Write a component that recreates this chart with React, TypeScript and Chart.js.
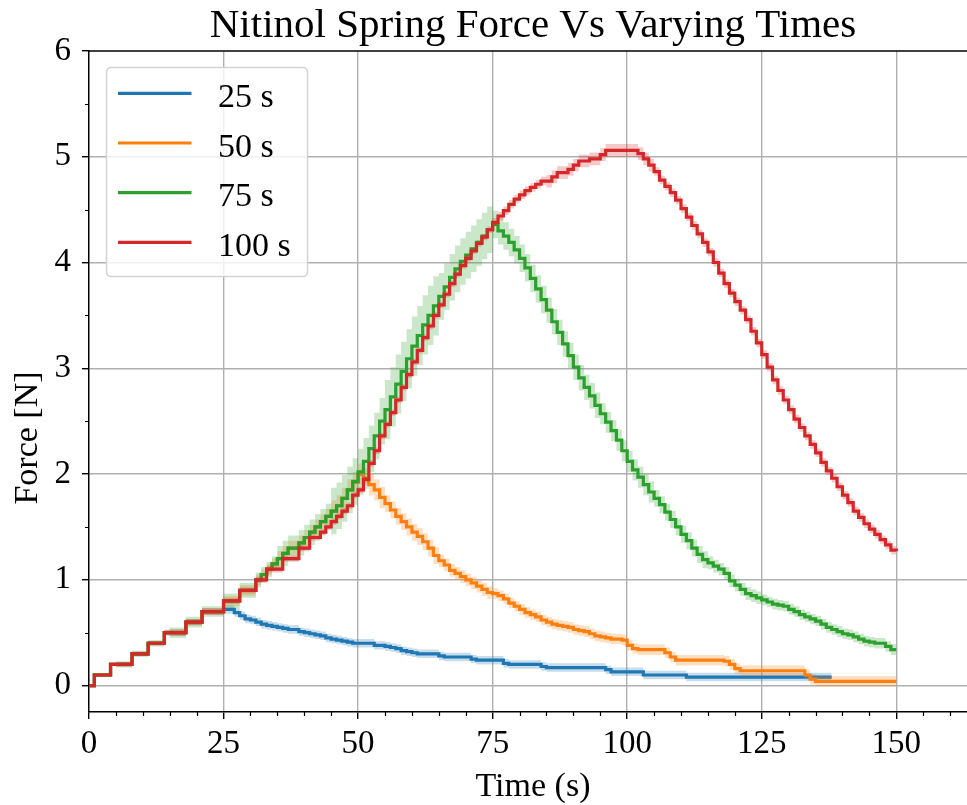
import React, { useEffect, useRef } from "react";
import { Chart, registerables } from "chart.js";

Chart.register(...registerables);

// ---------------- data ----------------
const TITLE = "Nitinol Spring Force Vs Varying Times";
const X_LABEL = "Time (s)";
const Y_LABEL = "Force [N]";
const SERIES_LABELS = ["25 s", "50 s", "75 s", "100 s"];
const SERIES_COLORS = ["#1f77b4", "#ff7f0e", "#2ca02c", "#d62728"];
const BAND_COLORS = [
  "rgba(31,119,180,0.25)",
  "rgba(255,127,14,0.25)",
  "rgba(44,160,44,0.25)",
  "rgba(214,39,40,0.25)",
];

const X_TICKS = [0, 25, 50, 75, 100, 125, 150];
const X_MINOR_TICKS = [5, 10, 15, 20, 30, 35, 40, 45, 55, 60, 65, 70, 80, 85, 90, 95, 105, 110, 115, 120, 130, 135, 140, 145, 155, 160];
const Y_TICKS = [0, 1, 2, 3, 4, 5, 6];
const Y_MINOR_TICKS = [0.5, 1.5, 2.5, 3.5, 4.5, 5.5];
const X_MIN = 0;
const X_MAX = 165;
const Y_MIN = -0.25;
const Y_MAX = 6;

// samples are 1 s apart, starting at t = 0
const SAMPLE_S = 1;
// spread (band half width) is given every 10 s
const SPREAD_STEP_S = 10;

// 25 s heating (t = 0..138)
const F25 = [
  0, 0.1, 0.1, 0.1, 0.2, 0.2, 0.2, 0.2, 0.3, 0.3,
  0.3, 0.4, 0.4, 0.4, 0.5, 0.5, 0.5, 0.5, 0.6, 0.6,
  0.6, 0.7, 0.7, 0.7, 0.7, 0.72, 0.72, 0.69, 0.66, 0.63,
  0.62, 0.6, 0.58, 0.57, 0.56, 0.55, 0.54, 0.53, 0.53, 0.51,
  0.5, 0.49, 0.48, 0.47, 0.45, 0.44, 0.43, 0.42, 0.41, 0.4,
  0.4, 0.4, 0.4, 0.38, 0.38, 0.37, 0.36, 0.35, 0.33, 0.32,
  0.31, 0.3, 0.3, 0.3, 0.3, 0.28, 0.27, 0.27, 0.27, 0.27,
  0.27, 0.25, 0.24, 0.24, 0.24, 0.24, 0.24, 0.21, 0.2, 0.2,
  0.2, 0.2, 0.2, 0.2, 0.18, 0.17, 0.17, 0.17, 0.17, 0.17,
  0.17, 0.17, 0.17, 0.17, 0.17, 0.17, 0.15, 0.13, 0.13, 0.13,
  0.13, 0.13, 0.13, 0.1, 0.1, 0.1, 0.1, 0.1, 0.1, 0.1,
  0.1, 0.08, 0.08, 0.08, 0.08, 0.08, 0.08, 0.08, 0.08, 0.08,
  0.08, 0.08, 0.08, 0.08, 0.08, 0.08, 0.08, 0.08, 0.08, 0.08,
  0.08, 0.08, 0.08, 0.08, 0.08, 0.08, 0.08, 0.08, 0.08,
];

// 50 s heating (t = 0..150)
const F50 = [
  0, 0.1, 0.1, 0.1, 0.2, 0.2, 0.2, 0.2, 0.3, 0.3,
  0.3, 0.4, 0.4, 0.4, 0.5, 0.5, 0.5, 0.5, 0.6, 0.6,
  0.6, 0.7, 0.7, 0.7, 0.7, 0.8, 0.8, 0.8, 0.9, 0.9,
  0.9, 1.0, 1.05, 1.1, 1.15, 1.2, 1.25, 1.3, 1.3, 1.35,
  1.4, 1.45, 1.5, 1.55, 1.6, 1.65, 1.7, 1.77, 1.85, 1.92,
  2.0, 1.96, 1.9, 1.85, 1.78, 1.72, 1.66, 1.6, 1.55, 1.5,
  1.45, 1.41, 1.36, 1.3, 1.23, 1.18, 1.14, 1.09, 1.06, 1.03,
  1.0, 0.97, 0.94, 0.91, 0.88, 0.87, 0.85, 0.82, 0.78, 0.75,
  0.72, 0.69, 0.67, 0.65, 0.62, 0.6, 0.58, 0.57, 0.56, 0.55,
  0.53, 0.52, 0.51, 0.49, 0.47, 0.46, 0.45, 0.44, 0.44, 0.43,
  0.38, 0.35, 0.34, 0.34, 0.34, 0.34, 0.34, 0.31, 0.27, 0.24,
  0.24, 0.24, 0.24, 0.24, 0.24, 0.24, 0.24, 0.24, 0.23, 0.2,
  0.16, 0.14, 0.14, 0.14, 0.14, 0.14, 0.14, 0.14, 0.14, 0.14,
  0.14, 0.14, 0.14, 0.1, 0.06, 0.04, 0.04, 0.04, 0.04, 0.04,
  0.04, 0.04, 0.04, 0.04, 0.04, 0.04, 0.04, 0.04, 0.04, 0.04,
  0.04,
];

// 75 s heating (t = 0..150)
const F75 = [
  0, 0.1, 0.1, 0.1, 0.2, 0.2, 0.2, 0.2, 0.3, 0.3,
  0.3, 0.4, 0.4, 0.4, 0.5, 0.5, 0.5, 0.5, 0.6, 0.6,
  0.6, 0.7, 0.7, 0.7, 0.7, 0.8, 0.8, 0.8, 0.9, 0.9,
  0.9, 1.0, 1.05, 1.1, 1.15, 1.2, 1.25, 1.3, 1.3, 1.35,
  1.4, 1.45, 1.5, 1.55, 1.6, 1.65, 1.7, 1.77, 1.85, 1.93,
  2.02, 2.12, 2.24, 2.36, 2.5, 2.61, 2.73, 2.85, 2.97, 3.09,
  3.21, 3.31, 3.41, 3.5, 3.59, 3.68, 3.77, 3.86, 3.94, 4.01,
  4.07, 4.13, 4.19, 4.25, 4.31, 4.36, 4.3, 4.25, 4.19, 4.12,
  4.04, 3.95, 3.85, 3.75, 3.65, 3.55, 3.44, 3.34, 3.23, 3.12,
  3.01, 2.91, 2.82, 2.74, 2.65, 2.57, 2.49, 2.41, 2.32, 2.22,
  2.12, 2.04, 1.97, 1.9, 1.83, 1.77, 1.71, 1.64, 1.57, 1.5,
  1.43, 1.37, 1.3, 1.24, 1.19, 1.16, 1.13, 1.1, 1.06, 0.99,
  0.95, 0.91, 0.87, 0.85, 0.83, 0.81, 0.79, 0.77, 0.76, 0.75,
  0.72, 0.7, 0.67, 0.65, 0.63, 0.61, 0.58, 0.55, 0.53, 0.51,
  0.49, 0.48, 0.46, 0.44, 0.42, 0.41, 0.4, 0.4, 0.37, 0.34,
  0.34,
];

// 100 s heating (t = 0..150)
const F100 = [
  0, 0.1, 0.1, 0.1, 0.2, 0.2, 0.2, 0.2, 0.3, 0.3,
  0.3, 0.4, 0.4, 0.4, 0.5, 0.5, 0.5, 0.5, 0.6, 0.6,
  0.6, 0.7, 0.7, 0.7, 0.7, 0.8, 0.8, 0.8, 0.9, 0.9,
  0.9, 1.0, 1.0, 1.1, 1.1, 1.1, 1.2, 1.2, 1.2, 1.3,
  1.3, 1.4, 1.4, 1.45, 1.5, 1.55, 1.6, 1.65, 1.7, 1.8,
  1.85, 1.95, 2.1, 2.22, 2.36, 2.47, 2.58, 2.7, 2.82, 2.94,
  3.06, 3.17, 3.29, 3.4, 3.5, 3.6, 3.7, 3.8, 3.89, 3.97,
  4.04, 4.11, 4.18, 4.24, 4.31, 4.38, 4.44, 4.49, 4.55, 4.6,
  4.64, 4.68, 4.71, 4.74, 4.77, 4.77, 4.81, 4.85, 4.85, 4.88,
  4.92, 4.96, 4.96, 4.98, 4.98, 5.02, 5.06, 5.06, 5.06, 5.06,
  5.06, 5.06, 5.03, 4.98, 4.92, 4.86, 4.78, 4.72, 4.66, 4.59,
  4.51, 4.43, 4.35, 4.27, 4.19, 4.1, 4.0, 3.9, 3.8, 3.71,
  3.63, 3.55, 3.46, 3.35, 3.24, 3.13, 3.01, 2.89, 2.79, 2.7,
  2.61, 2.52, 2.44, 2.36, 2.28, 2.2, 2.11, 2.03, 1.96, 1.88,
  1.8, 1.73, 1.65, 1.59, 1.53, 1.48, 1.43, 1.38, 1.33, 1.28,
  1.27,
];

// band half widths every 10 s (t = 0, 10, ..., 150)
const S25 = [0.01, 0.02, 0.03, 0.04, 0.04, 0.04, 0.04, 0.04, 0.04, 0.04, 0.04, 0.04, 0.04, 0.04, 0.04, 0.04];
const S50 = [0.01, 0.02, 0.03, 0.05, 0.07, 0.1, 0.08, 0.06, 0.05, 0.05, 0.05, 0.05, 0.05, 0.05, 0.05, 0.05];
const S75 = [0.01, 0.03, 0.05, 0.07, 0.12, 0.22, 0.28, 0.22, 0.13, 0.12, 0.1, 0.08, 0.06, 0.05, 0.05, 0.05];
const S100 = [0.01, 0.02, 0.03, 0.03, 0.03, 0.03, 0.03, 0.03, 0.04, 0.06, 0.06, 0.04, 0.04, 0.04, 0.04, 0.04];

const SERIES = [F25, F50, F75, F100];
const SPREADS = [S25, S50, S75, S100];

// ---------------- styling ----------------
const SERIF = "'Liberation Serif', 'Times New Roman', Times, serif";
const LINE_W = 3.2;

function toPoints(vals: number[]) {
  return vals.map((v, i) => ({ x: i * SAMPLE_S, y: v }));
}
function toBand(vals: number[], spread: number[], sign: number) {
  return vals.map((v, i) => ({
    x: i * SAMPLE_S,
    y: v + sign * spread[Math.round((i * SAMPLE_S) / SPREAD_STEP_S)],
  }));
}

function buildDatasets() {
  const ds: any[] = [];
  SERIES.forEach((vals, k) => {
    const base = (SERIES.length - 1 - k) * 2;
    ds.push({
      label: SERIES_LABELS[k] + " upper",
      data: toBand(vals, SPREADS[k], 1),
      borderWidth: 0,
      pointRadius: 0,
      stepped: true,
      fill: false,
      order: base + 1,
    });
    ds.push({
      label: SERIES_LABELS[k] + " lower",
      data: toBand(vals, SPREADS[k], -1),
      borderWidth: 0,
      pointRadius: 0,
      stepped: true,
      fill: "-1",
      backgroundColor: BAND_COLORS[k],
      order: base + 1,
    });
    ds.push({
      label: SERIES_LABELS[k],
      data: toPoints(vals),
      borderColor: SERIES_COLORS[k],
      borderWidth: LINE_W,
      pointRadius: 0,
      stepped: true,
      fill: false,
      borderCapStyle: "butt",
      borderJoinStyle: "miter",
      order: base,
    });
  });
  return ds;
}

const decorPlugin = {
  id: "decor",
  afterDraw(chart: any) {
    const { ctx, chartArea: a } = chart;
    const xs = chart.scales.x;
    const ys = chart.scales.y;
    ctx.save();
    // top spine
    ctx.strokeStyle = "#000";
    ctx.lineWidth = 1.5;
    ctx.beginPath();
    ctx.moveTo(a.left, a.top);
    ctx.lineTo(a.right, a.top);
    ctx.stroke();
    // minor ticks
    ctx.lineWidth = 1.2;
    ctx.beginPath();
    X_MINOR_TICKS.forEach((v) => {
      const px = Math.round(xs.getPixelForValue(v)) + 0.5;
      ctx.moveTo(px, a.bottom);
      ctx.lineTo(px, a.bottom + 4);
    });
    Y_MINOR_TICKS.forEach((v) => {
      const py = Math.round(ys.getPixelForValue(v)) + 0.5;
      ctx.moveTo(a.left, py);
      ctx.lineTo(a.left - 4, py);
    });
    ctx.stroke();

    // title and axis labels
    ctx.fillStyle = "#000";
    ctx.textAlign = "center";
    ctx.textBaseline = "alphabetic";
    const cx = (a.left + a.right) / 2;
    ctx.font = `41px ${SERIF}`;
    ctx.fillText(TITLE, cx, 37);
    ctx.font = `34px ${SERIF}`;
    ctx.fillText(X_LABEL, cx, 796);
    ctx.save();
    ctx.translate(37, 438);
    ctx.rotate(-Math.PI / 2);
    ctx.fillText(Y_LABEL, 0, 0);
    ctx.restore();

    // legend
    const lx = 106.5, ly = 67.5, lw = 201, lh = 209, r = 5;
    ctx.beginPath();
    ctx.moveTo(lx + r, ly);
    ctx.lineTo(lx + lw - r, ly);
    ctx.quadraticCurveTo(lx + lw, ly, lx + lw, ly + r);
    ctx.lineTo(lx + lw, ly + lh - r);
    ctx.quadraticCurveTo(lx + lw, ly + lh, lx + lw - r, ly + lh);
    ctx.lineTo(lx + r, ly + lh);
    ctx.quadraticCurveTo(lx, ly + lh, lx, ly + lh - r);
    ctx.lineTo(lx, ly + r);
    ctx.quadraticCurveTo(lx, ly, lx + r, ly);
    ctx.closePath();
    ctx.fillStyle = "rgba(255,255,255,0.8)";
    ctx.fill();
    ctx.strokeStyle = "#d4d4d4";
    ctx.lineWidth = 1.5;
    ctx.stroke();

    ctx.textAlign = "left";
    ctx.font = `34px ${SERIF}`;
    SERIES_LABELS.forEach((lab, k) => {
      const yy = 93.3 + k * 49.7;
      ctx.strokeStyle = SERIES_COLORS[k];
      ctx.lineWidth = LINE_W;
      ctx.beginPath();
      ctx.moveTo(118, yy);
      ctx.lineTo(191.5, yy);
      ctx.stroke();
      ctx.fillStyle = "#000";
      ctx.fillText(lab, 218, yy + 13.5);
    });
    ctx.restore();
  },
};

export default function App() {
  const ref = useRef<HTMLCanvasElement | null>(null);
  useEffect(() => {
    if (!ref.current) return;
    const chart = new Chart(ref.current, {
      type: "line",
      data: { datasets: buildDatasets() },
      options: {
        animation: false,
        responsive: false,
        devicePixelRatio: 1,
        layout: { padding: { top: 51, right: 1, left: 0, bottom: 0 } },
        plugins: {
          legend: { display: false },
          title: { display: false },
          tooltip: { enabled: false },
        },
        scales: {
          x: {
            type: "linear",
            min: X_MIN,
            max: X_MAX,
            afterBuildTicks: (s: any) => {
              s.ticks = X_TICKS.map((v) => ({ value: v }));
            },
            afterFit: (s: any) => {
              s.height = 93;
            },
            grid: {
              color: (c: any) => (c.tick && c.tick.value === 0 ? "rgba(0,0,0,0)" : "#b0b0b0"),
              lineWidth: 1.4,
              tickLength: 7,
              tickColor: "#000",
              tickWidth: 1.4,
            },
            border: { display: true, color: "#000", width: 1.5 },
            ticks: {
              font: { family: SERIF, size: 33 },
              color: "#000",
              padding: 6,
              maxRotation: 0,
            },
          },
          y: {
            type: "linear",
            min: Y_MIN,
            max: Y_MAX,
            afterBuildTicks: (s: any) => {
              s.ticks = Y_TICKS.map((v) => ({ value: v }));
            },
            afterFit: (s: any) => {
              s.width = 89;
            },
            grid: {
              color: (c: any) => (c.tick && c.tick.value === 6 ? "rgba(0,0,0,0)" : "#b0b0b0"),
              lineWidth: 1.4,
              tickLength: 7,
              tickColor: "#000",
              tickWidth: 1.4,
            },
            border: { display: true, color: "#000", width: 1.5 },
            ticks: {
              font: { family: SERIF, size: 33 },
              color: "#000",
              padding: 11,
            },
          },
        },
      },
      plugins: [decorPlugin],
    } as any);
    return () => chart.destroy();
  }, []);
  return (
    <div
      style={{
        position: "absolute",
        left: 0,
        top: 0,
        width: 967,
        height: 805,
        overflow: "hidden",
        background: "#fff",
      }}
    >
      <canvas ref={ref} width={978} height={805} style={{ display: "block" }} />
    </div>
  );
}
